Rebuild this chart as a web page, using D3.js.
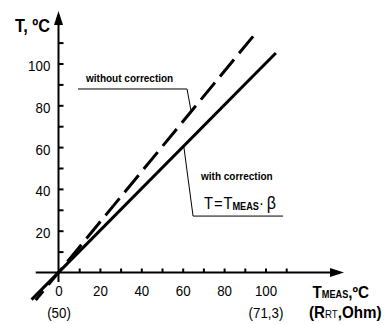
<!DOCTYPE html>
<html>
<head>
<meta charset="utf-8">
<script src="https://cdn.jsdelivr.net/npm/d3@7"></script>
<style>
  body { margin: 0; background: #fff; }
  svg { display: block; }
  text { font-family: "Liberation Sans Narrow", "Arial Narrow", "Liberation Sans", Arial, sans-serif; fill: #000; }
</style>
</head>
<body>
<div class="chart-container"></div>
<script>
// datos
const xLabelTicks = [0, 20, 40, 60, 80, 100]
const xMinorTicks = [10, 20, 30, 40, 50, 60, 70, 80, 90, 100, 110]
const yLabelTicks = [20, 40, 60, 80, 100]
const yMinorTicks = [10, 20, 30, 40, 50, 60, 70, 80, 90, 100, 110]
const rtTicks = [0, 100]
const rtLabels = ["(50)", "(71,3)"]

// lineas: [T_meas, T]
const withCorrection = [[105, 105], [-13, -13]]
const withoutCorrection = [[94, 113], [-11, -13.2]]

// lineas guia de las anotaciones
const leaderWithout = [[9.4, 87.8], [62.1, 87.8], [64, 77.5]]
const leaderWith = [[60.5, 60.5], [65, 27], [108.5, 27]]

const WIDTH = 386
const HEIGHT = 325
const NARROW = 0.86 // la fuente original es condensada

const svg = d3.select(".chart-container")
  .append("svg")
  .attr("width", WIDTH)
  .attr("height", HEIGHT)

const xScale = d3.scaleLinear().domain([0, 100]).range([58.5, 265.5])
const yScale = d3.scaleLinear().domain([0, 100]).range([272.5, 63.5])

const line = d3.line()
  .x(d => xScale(d[0]))
  .y(d => yScale(d[1]))

// Ejes (lineas con flecha)
const x0 = xScale(0), y0 = yScale(0)
svg.append("line")
  .attr("x1", xScale(-11)).attr("y1", y0)
  .attr("x2", 332).attr("y2", y0)
  .attr("stroke", "#000").attr("stroke-width", 2)
svg.append("path")
  .attr("d", `M344,${y0} L330,${y0 - 4.5} L330,${y0 + 4.5} Z`)
  .attr("fill", "#000")

svg.append("line")
  .attr("x1", x0).attr("y1", yScale(-4.5))
  .attr("x2", x0).attr("y2", 24)
  .attr("stroke", "#000").attr("stroke-width", 2)
svg.append("path")
  .attr("d", `M${x0},11 L${x0 - 4.5},25 L${x0 + 4.5},25 Z`)
  .attr("fill", "#000")

// ticks
const xTickAxis = d3.axisTop(xScale).tickValues(xMinorTicks).tickSize(4).tickFormat("")
svg.append("g").attr("transform", `translate(0, ${y0})`).call(xTickAxis)
  .call(g => g.select(".domain").remove())
  .selectAll("line").attr("stroke-width", 2)

const yTickAxis = d3.axisRight(yScale).tickValues(yMinorTicks).tickSize(5).tickFormat("")
svg.append("g").attr("transform", `translate(${x0}, 0)`).call(yTickAxis)
  .call(g => g.select(".domain").remove())
  .selectAll("line").attr("stroke-width", 2)

// etiquetas de ticks
const xLabelAxis = d3.axisBottom(xScale).tickValues(xLabelTicks).tickSize(0).tickPadding(13)
svg.append("g").attr("transform", `translate(0, ${y0})`).call(xLabelAxis)
  .call(g => g.select(".domain").remove())
  .selectAll("text")
  .attr("font-family", null)
  .attr("font-size", 15.5)
  .attr("transform", `scale(${NARROW},1)`)

const rtAxis = d3.axisBottom(xScale).tickValues(rtTicks).tickSize(0).tickPadding(35)
  .tickFormat((d, i) => rtLabels[i])
svg.append("g").attr("transform", `translate(0, ${y0})`).call(rtAxis)
  .call(g => g.select(".domain").remove())
  .selectAll("text")
  .attr("font-family", null)
  .attr("font-size", 15.5)
  .attr("transform", `scale(${NARROW},1)`)

const yLabelAxis = d3.axisLeft(yScale).tickValues(yLabelTicks).tickSize(0).tickPadding(9.5)
svg.append("g").attr("transform", `translate(${x0}, 0)`).call(yLabelAxis)
  .call(g => g.select(".domain").remove())
  .selectAll("text")
  .attr("font-family", null)
  .attr("font-size", 15.5)
  .attr("dy", "0.45em")
  .attr("transform", `scale(${NARROW},1)`)

// Lineas de datos
svg.append("path")
  .datum(withoutCorrection)
  .attr("d", line)
  .attr("fill", "none")
  .attr("stroke", "#000")
  .attr("stroke-width", 3)
  .attr("stroke-dasharray", "22,8")

svg.append("path")
  .datum(withCorrection)
  .attr("d", line)
  .attr("fill", "none")
  .attr("stroke", "#000")
  .attr("stroke-width", 3)

// lineas guia
;[leaderWithout, leaderWith].forEach(pts => {
  svg.append("path")
    .datum(pts)
    .attr("d", line)
    .attr("fill", "none")
    .attr("stroke", "#000")
    .attr("stroke-width", 1)
})

// Titulos de ejes
svg.append("text")
  .attr("transform", `translate(50, 31.7) scale(${NARROW},1)`)
  .attr("text-anchor", "end")
  .attr("font-size", 19)
  .attr("font-weight", "bold")
  .text("T, ºC")

const xt1 = svg.append("text")
  .attr("transform", `translate(312.5, 298) scale(0.92,1)`)
  .attr("font-weight", "bold")
  .attr("font-size", 16.5)
xt1.append("tspan").text("T")
xt1.append("tspan").attr("font-size", 10).text("MEAS")
xt1.append("tspan").text(",ºC")

const xt2 = svg.append("text")
  .attr("transform", `translate(309, 318) scale(0.92,1)`)
  .attr("font-weight", "bold")
  .attr("font-size", 16.5)
xt2.append("tspan").text("(R")
xt2.append("tspan").attr("font-size", 10.5).attr("font-weight", "normal").text("RT")
xt2.append("tspan").text(",Ohm)")

// Anotaciones
svg.append("text")
  .attr("x", 86).attr("y", 82)
  .attr("font-family", "'Liberation Sans', Arial, sans-serif")
  .attr("font-size", 10)
  .attr("font-weight", "bold")
  .text("without correction")

svg.append("text")
  .attr("x", 201).attr("y", 180)
  .attr("font-family", "'Liberation Sans', Arial, sans-serif")
  .attr("font-size", 10)
  .attr("font-weight", "bold")
  .text("with correction")

const formula = svg.append("text")
  .attr("transform", `translate(204, 209) scale(0.92,1)`)
  .attr("font-size", 16)
formula.append("tspan").text("T")
formula.append("tspan").attr("dx", 1).text("=")
formula.append("tspan").attr("dx", 1).text("T")
formula.append("tspan").attr("font-size", 10).attr("font-weight", "bold").attr("dy", 1).text("MEAS")
formula.append("tspan").attr("dy", -1).text("·")
formula.append("tspan").attr("dx", 3).attr("font-size", 17.5).text("β")
</script>
</body>
</html>
